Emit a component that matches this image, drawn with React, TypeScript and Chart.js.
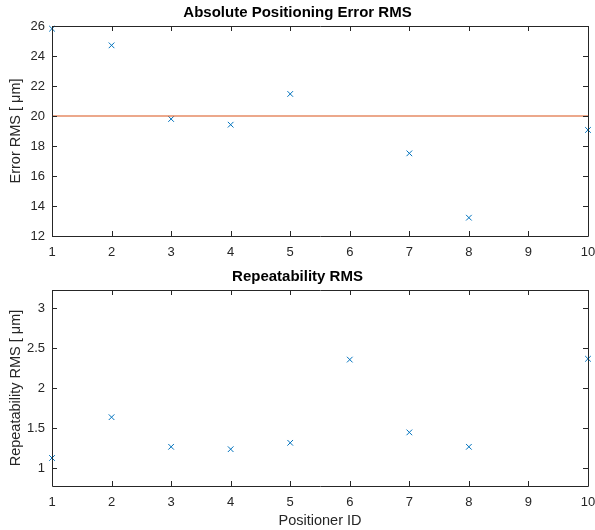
import React, { useEffect, useRef } from "react";
import { Chart, registerables } from "chart.js";

Chart.register(...registerables);

const positionerIds = [1, 2, 3, 4, 5, 7, 8, 10];
const errorRms = [25.82, 24.71, 19.8, 19.42, 21.47, 17.51, 13.22, 19.07];
const thresholdX = [1, 10];
const thresholdY = [20, 20];

const repIds = [1, 2, 3, 4, 5, 6, 7, 8, 10];
const repeatRms = [1.13, 1.64, 1.27, 1.24, 1.32, 2.36, 1.45, 1.27, 2.37];

const xTicks = [1, 2, 3, 4, 5, 6, 7, 8, 9, 10];
const yTicksTop = [12, 14, 16, 18, 20, 22, 24, 26];
const yTicksBottom = [1, 1.5, 2, 2.5, 3];

const AXIS = "#262626";
const FONT = "'Liberation Sans', Arial, Helvetica, sans-serif";

const boxTicks = {
  id: "boxTicks",
  afterDraw(chart: any) {
    const { ctx, chartArea, scales } = chart;
    const { left, right, top, bottom } = chartArea;
    ctx.save();
    ctx.strokeStyle = AXIS;
    ctx.lineWidth = 1;
    ctx.beginPath();
    ctx.rect(Math.round(left) + 0.5, Math.round(top) + 0.5, Math.round(right - left), Math.round(bottom - top));
    const L = 5;
    scales.x.ticks.forEach((t: any) => {
      const px = Math.round(scales.x.getPixelForValue(t.value)) + 0.5;
      ctx.moveTo(px, bottom);
      ctx.lineTo(px, bottom - L);
      ctx.moveTo(px, top);
      ctx.lineTo(px, top + L);
    });
    scales.y.ticks.forEach((t: any) => {
      const py = Math.round(scales.y.getPixelForValue(t.value)) + 0.5;
      ctx.moveTo(left, py);
      ctx.lineTo(left + L, py);
      ctx.moveTo(right, py);
      ctx.lineTo(right - L, py);
    });
    ctx.stroke();
    ctx.restore();
  },
};

function makeOptions(opts: {
  title: string;
  yMin: number;
  yMax: number;
  yTicks: number[];
  yTitle: string;
  xTitle?: string;
  xHeight: number;
  titlePad: { top: number; bottom: number };
}) {
  return {
    responsive: false,
    animation: false as const,
    layout: { padding: { left: 0, right: 0, top: 0, bottom: 0 } },
    plugins: {
      legend: { display: false },
      tooltip: { enabled: false },
      title: {
        display: true,
        text: opts.title,
        color: "#000",
        font: { family: FONT, size: 15, weight: "bold" as const },
        padding: opts.titlePad,
      },
    },
    scales: {
      x: {
        type: "linear" as const,
        min: 1,
        max: 10,
        afterBuildTicks: (s: any) => {
          s.ticks = xTicks.map((v) => ({ value: v }));
        },
        afterFit: (s: any) => {
          s.height = opts.xHeight;
          s.paddingRight = 7;
          s.paddingLeft = 0;
        },
        grid: { display: false, drawTicks: false },
        border: { display: false },
        ticks: {
          color: AXIS,
          padding: 9,
          font: { family: FONT, size: 13 },
          maxRotation: 0,
          callback: (v: any) => String(v),
        },
        title: {
          display: !!opts.xTitle,
          text: opts.xTitle || "",
          color: AXIS,
          font: { family: FONT, size: 14.5 },
          padding: { top: 2, bottom: 0 },
        },
      },
      y: {
        type: "linear" as const,
        min: opts.yMin,
        max: opts.yMax,
        afterBuildTicks: (s: any) => {
          s.ticks = opts.yTicks.map((v) => ({ value: v }));
        },
        afterFit: (s: any) => {
          s.width = 52;
          s.paddingTop = 0;
          s.paddingBottom = 0;
        },
        grid: { display: false, drawTicks: false },
        border: { display: false },
        ticks: {
          color: AXIS,
          padding: 7,
          font: { family: FONT, size: 13 },
          callback: (v: any) => String(v),
        },
        title: {
          display: true,
          text: opts.yTitle,
          color: AXIS,
          font: { family: FONT, size: 14.5 },
          padding: { top: 7, bottom: 0 },
        },
      },
    },
  };
}

export default function App() {
  const topRef = useRef<HTMLCanvasElement>(null);
  const botRef = useRef<HTMLCanvasElement>(null);

  useEffect(() => {
    const c1 = new Chart(topRef.current!, {
      type: "scatter",
      data: {
        datasets: [
          {
            type: "line",
            data: thresholdX.map((x, i) => ({ x, y: thresholdY[i] })),
            borderColor: "#D95319",
            borderWidth: 1.2,
            pointRadius: 0,
            fill: false,
          } as any,
          {
            data: positionerIds.map((x, i) => ({ x, y: errorRms[i] })),
            pointStyle: "crossRot",
            pointRadius: 4,
            borderColor: "#0072BD",
            backgroundColor: "#0072BD",
            borderWidth: 1,
            clip: false,
          } as any,
        ],
      },
      options: makeOptions({
        title: "Absolute Positioning Error RMS",
        yMin: 12,
        yMax: 26,
        yTicks: yTicksTop,
        yTitle: "Error RMS [ μm]",
        xHeight: 26,
        titlePad: { top: 4, bottom: 4 },
      }) as any,
      plugins: [boxTicks],
    });
    const c2 = new Chart(botRef.current!, {
      type: "scatter",
      data: {
        datasets: [
          {
            data: repIds.map((x, i) => ({ x, y: repeatRms[i] })),
            pointStyle: "crossRot",
            pointRadius: 4,
            borderColor: "#0072BD",
            backgroundColor: "#0072BD",
            borderWidth: 1,
            clip: false,
          } as any,
        ],
      },
      options: makeOptions({
        title: "Repeatability RMS",
        yMin: 0.78,
        yMax: 3.23,
        yTicks: yTicksBottom,
        yTitle: "Repeatability RMS [ μm]",
        xTitle: "Positioner ID",
        xHeight: 44,
        titlePad: { top: 6, bottom: 4 },
      }) as any,
      plugins: [boxTicks],
    });
    return () => {
      c1.destroy();
      c2.destroy();
    };
  }, []);

  return (
    <div style={{ position: "absolute", left: 0, top: 0, width: 595, height: 530, background: "#fff" }}>
      <canvas ref={topRef} width={595} height={262} style={{ position: "absolute", left: 0, top: 0, width: 595, height: 262 }} />
      <canvas ref={botRef} width={595} height={268} style={{ position: "absolute", left: 0, top: 262, width: 595, height: 268 }} />
    </div>
  );
}
